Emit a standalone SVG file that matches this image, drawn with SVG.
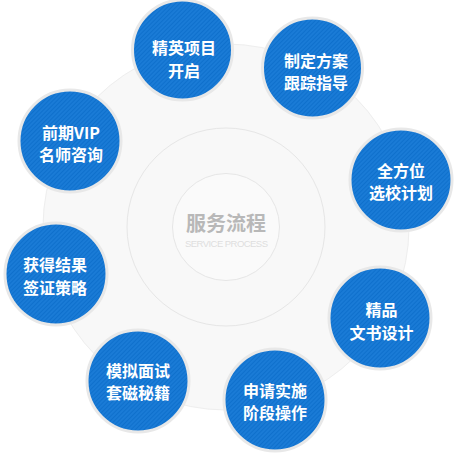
<svg xmlns="http://www.w3.org/2000/svg" width="456" height="455" viewBox="0 0 456 455">
<style>
.node circle{fill:url(#stripe);stroke:#e8e8e8;stroke-width:3}
.node text{font-family:"Noto Sans CJK SC","Liberation Sans",sans-serif;font-weight:bold;font-size:16px;fill:#ffffff;text-anchor:middle}
</style>
<defs>
<pattern id="stripe" width="3" height="3" patternUnits="userSpaceOnUse" patternTransform="rotate(-45)">
<rect width="3" height="3" fill="#1a7bd6"/>
<rect width="3" height="1" fill="#0f70cc"/>
</pattern>
</defs>
<rect width="456" height="455" fill="#ffffff"/>
<g id="background">
<circle cx="226" cy="227" r="183" fill="#f8f8f8" stroke="#eeeeee" stroke-width="1"/>
<circle cx="226" cy="227" r="99" fill="#f8f8f8" stroke="#e6e6e6" stroke-width="1"/>
<circle cx="226" cy="227" r="53.5" fill="#fafafa" stroke="#e6e6e6" stroke-width="1"/>
<text x="226" y="231" text-anchor="middle" font-family="Noto Sans CJK SC,sans-serif" font-weight="bold" font-size="20" fill="#b8b8b8">服务流程</text>
<text x="226.5" y="247" text-anchor="middle" font-family="Liberation Sans,sans-serif" font-size="9.5" fill="#dedede" textLength="83" lengthAdjust="spacing">SERVICE PROCESS</text>
</g>
<g id="connectors"></g>
<g id="n1" class="node"><circle cx="182.5" cy="50" r="50"/><text x="184" y="53.5">精英项目</text><text x="184" y="77">开启</text></g>
<g id="n2" class="node"><circle cx="312.5" cy="68" r="50"/><text x="316" y="66.5">制定方案</text><text x="316" y="88.5">跟踪指导</text></g>
<g id="n3" class="node"><circle cx="401" cy="180" r="51"/><text x="401" y="176.5">全方位</text><text x="401" y="198.5">选校计划</text></g>
<g id="n4" class="node"><circle cx="380" cy="318" r="51"/><text x="381.5" y="315.5">精品</text><text x="381.5" y="338.5">文书设计</text></g>
<g id="n5" class="node"><circle cx="275" cy="400" r="51"/><text x="275" y="396.5">申请实施</text><text x="275" y="418.5">阶段操作</text></g>
<g id="n6" class="node"><circle cx="138" cy="381" r="51"/><text x="138" y="376.5">模拟面试</text><text x="138" y="398.5">套磁秘籍</text></g>
<g id="n7" class="node"><circle cx="56" cy="274" r="51"/><text x="55" y="271">获得结果</text><text x="55" y="293.5">签证策略</text></g>
<g id="n8" class="node"><circle cx="70" cy="141" r="51"/><text x="71" y="138.5">前期VIP</text><text x="71" y="160.5">名师咨询</text></g>
</svg>
